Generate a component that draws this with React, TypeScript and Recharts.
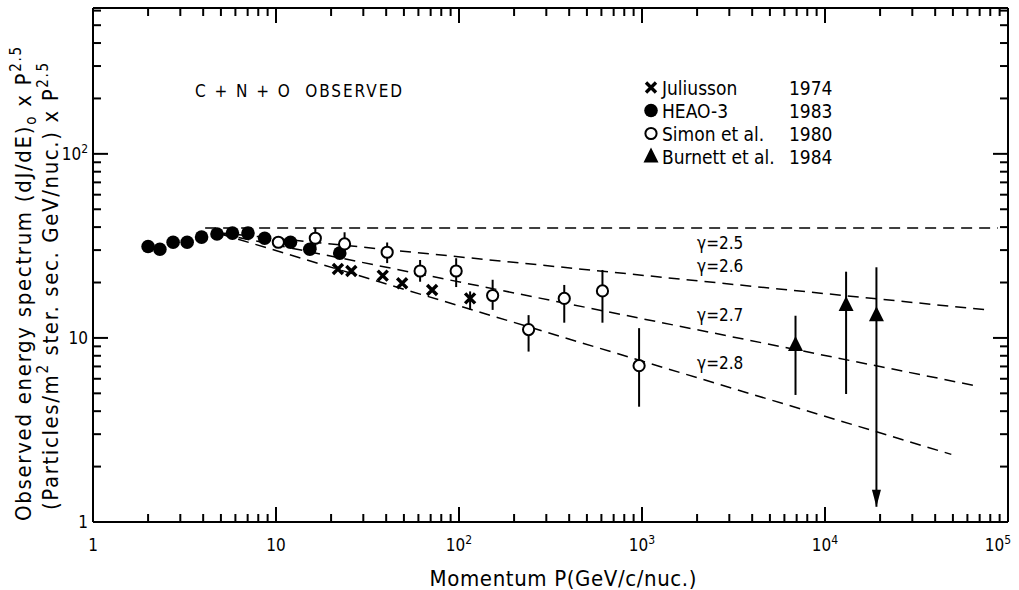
import React from "react";
import { ScatterChart, Scatter, XAxis, YAxis, ErrorBar, Legend } from "recharts";

const FONT = "'DejaVu Sans Condensed', 'DejaVu Sans', sans-serif";

// ---------- data ----------
const seriesNames = ["Juliusson", "HEAO-3", "Simon et al.", "Burnett et al."];
const seriesYears = ["1974", "1983", "1980", "1984"];

const juliusson = [
  { x: 21.8, y: 23.7, err: [0, 0] },
  { x: 25.8, y: 23.1, err: [0, 0] },
  { x: 38.3, y: 21.8, err: [0, 0] },
  { x: 48.9, y: 19.8, err: [0, 0] },
  { x: 71.3, y: 18.2, err: [0, 0] },
  { x: 115, y: 16.4, err: [2.2, 1.5] },
];

const heao3 = [
  { x: 2.0, y: 31.4 },
  { x: 2.32, y: 30.3 },
  { x: 2.74, y: 33.1 },
  { x: 3.27, y: 33.1 },
  { x: 3.92, y: 35.3 },
  { x: 4.76, y: 36.7 },
  { x: 5.78, y: 37.1 },
  { x: 7.03, y: 37.1 },
  { x: 8.67, y: 34.8 },
  { x: 12.0, y: 33.1 },
  { x: 15.3, y: 30.3 },
  { x: 22.3, y: 28.9 },
];

const simon = [
  { x: 10.3, y: 33.1, err: [0, 0] },
  { x: 16.4, y: 34.8, err: [4.7, 4.8] },
  { x: 23.7, y: 32.4, err: [2.9, 5.1] },
  { x: 40.5, y: 29.2, err: [3.7, 3.8] },
  { x: 61.3, y: 23.1, err: [2.9, 3.4] },
  { x: 96.5, y: 23.1, err: [4.2, 4.0] },
  { x: 152.7, y: 17.0, err: [2.8, 3.7] },
  { x: 240, y: 11.1, err: [2.67, 2.2] },
  { x: 376, y: 16.4, err: [4.3, 3.0] },
  { x: 608, y: 18.0, err: [5.9, 5.4] },
  { x: 964, y: 7.07, err: [2.84, 4.23] },
];

const burnett = [
  { x: 6900, y: 9.16, err: [4.26, 4.04] },
  { x: 13040, y: 15.1, err: [10.14, 7.8] },
  { x: 19100, y: 13.3, err: [12.09, 10.9] },
];

const arrowTip = [{ x: 19100, y: 1.21 }];

const gamma25 = [{ x: 4.1, y: 39.5 }, { x: 88000, y: 39.5 }];
const gamma26 = [{ x: 5, y: 37.2 }, { x: 76600, y: 14.2 }];
const gamma27 = [{ x: 5, y: 36.7 }, { x: 67600, y: 5.48 }];
const gamma28 = [{ x: 5, y: 36.7 }, { x: 49000, y: 2.33 }];

const gammaLabels = [
  { x: 2000, y: 32.8, text: "γ=2.5" },
  { x: 2000, y: 24.6, text: "γ=2.6" },
  { x: 2000, y: 13.3, text: "γ=2.7" },
  { x: 2000, y: 7.31, text: "γ=2.8" },
];

const titleLabel = [{ x: 3.61, y: 220, text: "C + N + O  OBSERVED" }];

const xTicks = [
  1, 2, 3, 4, 5, 6, 7, 8, 9,
  10, 20, 30, 40, 50, 60, 70, 80, 90,
  100, 200, 300, 400, 500, 600, 700, 800, 900,
  1000, 2000, 3000, 4000, 5000, 6000, 7000, 8000, 9000,
  10000, 20000, 30000, 40000, 50000, 60000, 70000, 80000, 90000,
  100000,
];
const yTicks = [
  1, 2, 3, 4, 5, 6, 7, 8, 9,
  10, 20, 30, 40, 50, 60, 70, 80, 90,
  100, 200, 300, 400, 500, 600,
];
const xTickLabels = [
  { v: 1, base: "1", exp: "" },
  { v: 10, base: "10", exp: "" },
  { v: 100, base: "10", exp: "2" },
  { v: 1000, base: "10", exp: "3" },
  { v: 10000, base: "10", exp: "4" },
  { v: 100000, base: "10", exp: "5" },
];
const yTickLabels = [
  { v: 1, base: "1", exp: "" },
  { v: 10, base: "10", exp: "" },
  { v: 100, base: "10", exp: "2" },
];

// ---------- ticks ----------
const MAJOR = 15;
const MINOR = 8;
const isMajor = (v: number) => [1, 10, 100, 1000, 10000, 100000].includes(v);

const TickText = ({ x, y, lab, anchor }: any) => (
  <text x={x} y={y} textAnchor={anchor} fontFamily={FONT} fontSize={17} fill="#000">
    {lab.base}
    {lab.exp ? (
      <tspan dy={-7} fontSize={12}>
        {lab.exp}
      </tspan>
    ) : null}
  </text>
);

const BottomTick = (props: any) => {
  const { x, y, payload } = props;
  const v = payload.value;
  const lab = xTickLabels.find((l) => l.v === v);
  const len = isMajor(v) ? MAJOR : MINOR;
  const last = v === xTicks[xTicks.length - 1];
  return (
    <g>
      <line x1={x} y1={y} x2={x} y2={y - len} stroke="#000" strokeWidth={2} />
      {lab ? (
        <TickText x={last ? x + 3 : x} y={y + 29} lab={lab} anchor={last ? "end" : "middle"} />
      ) : null}
    </g>
  );
};
const TopTick = (props: any) => {
  const { x, y, payload } = props;
  const len = isMajor(payload.value) ? MAJOR : MINOR;
  return <line x1={x} y1={y} x2={x} y2={y + len} stroke="#000" strokeWidth={2} />;
};
const LeftTick = (props: any) => {
  const { x, y, payload } = props;
  const v = payload.value;
  const lab = yTickLabels.find((l) => l.v === v);
  const len = isMajor(v) ? MAJOR : MINOR;
  return (
    <g>
      <line x1={x} y1={y} x2={x + len} y2={y} stroke="#000" strokeWidth={2} />
      {lab ? <TickText x={x - 5} y={y + 6} lab={lab} anchor="end" /> : null}
    </g>
  );
};
const RightTick = (props: any) => {
  const { x, y, payload } = props;
  const len = isMajor(payload.value) ? MAJOR : MINOR;
  return <line x1={x} y1={y} x2={x - len} y2={y} stroke="#000" strokeWidth={2} />;
};

// ---------- axis labels ----------
const XLabel = (props: any) => {
  const vb = props.viewBox || { x: 93, y: 522, width: 915, height: 68 };
  return (
    <text
      x={vb.x + 470}
      y={vb.y + 64}
      textAnchor="middle"
      fontFamily={FONT}
      fontSize={22}
      fill="#000"
      textLength={267}
      lengthAdjust="spacing"
    >
      Momentum P(GeV/c/nuc.)
    </text>
  );
};

const YLabel = (props: any) => {
  const vb = props.viewBox || { x: 0, y: 8, width: 93, height: 514 };
  const bottom = vb.y + vb.height;
  const x1 = vb.x + 31;
  const y1 = bottom - 1;
  const x2 = vb.x + 58;
  const y2 = bottom - 12;
  return (
    <g fontFamily={FONT} fontSize={22} fill="#000">
      <text
        x={x1}
        y={y1}
        transform={`rotate(-90 ${x1} ${y1})`}
        textLength={474}
        lengthAdjust="spacing"
        style={{ whiteSpace: "pre" }}
      >
        Observed energy spectrum (dJ/dE)
        <tspan dy={5} fontSize={15}>o</tspan>
        <tspan dy={-5}> x P</tspan>
        <tspan dy={-10} fontSize={15}>2.5</tspan>
      </text>
      <text
        x={x2}
        y={y2}
        transform={`rotate(-90 ${x2} ${y2})`}
        textLength={447}
        lengthAdjust="spacing"
        style={{ whiteSpace: "pre" }}
      >
        (Particles/m
        <tspan dy={-10} fontSize={15}>2</tspan>
        <tspan dy={10}> ster. sec. GeV/nuc.) x P</tspan>
        <tspan dy={-10} fontSize={15}>2.5</tspan>
      </text>
    </g>
  );
};

// ---------- markers ----------
const crossPath = (cx: number, cy: number, s: number) =>
  `M${cx - s},${cy - s}L${cx + s},${cy + s}M${cx + s},${cy - s}L${cx - s},${cy + s}`;

const marker = (i: number, cx: number, cy: number) => {
  switch (i) {
    case 0:
      return <path d={crossPath(cx, cy, 5)} stroke="#000" strokeWidth={3.4} fill="none" />;
    case 1:
      return <circle cx={cx} cy={cy} r={6.8} fill="#000" />;
    case 2:
      return <circle cx={cx} cy={cy} r={5.6} fill="#fff" stroke="#000" strokeWidth={2} />;
    default:
      return (
        <polygon
          points={`${cx},${cy - 9} ${cx - 7.5},${cy + 6} ${cx + 7.5},${cy + 6}`}
          fill="#000"
        />
      );
  }
};

const CrossShape = (p: any) => marker(0, p.cx, p.cy);
const FilledShape = (p: any) => marker(1, p.cx, p.cy);
const OpenShape = (p: any) => marker(2, p.cx, p.cy);
const TriShape = (p: any) => marker(3, p.cx, p.cy);
const NoShape = () => <g />;
const ArrowShape = (p: any) => (
  <polygon
    points={`${p.cx},${p.cy} ${p.cx - 4.5},${p.cy - 17} ${p.cx + 4.5},${p.cy - 17}`}
    fill="#000"
  />
);
const GammaText = (p: any) => (
  <text x={p.cx} y={p.cy + 6} fontFamily={FONT} fontSize={17} fill="#000">
    {p.payload.text}
  </text>
);
const TitleText = (p: any) => (
  <text
    x={p.cx}
    y={p.cy + 6}
    fontFamily={FONT}
    fontSize={17}
    fill="#000"
    textLength={207}
    lengthAdjust="spacing"
    style={{ whiteSpace: "pre" }}
  >
    {p.payload.text}
  </text>
);

// ---------- legend ----------
const LegendContent = (props: any) => {
  const present = (props.payload || []).map((p: any) => p.value);
  const items = seriesNames.filter((n) => present.includes(n));
  return (
    <div style={{ fontFamily: FONT, fontSize: 19, color: "#000" }}>
      {items.map((name) => {
        const i = seriesNames.indexOf(name);
        return (
          <div key={name} style={{ display: "flex", alignItems: "center", height: 23 }}>
            <svg width={22} height={23} style={{ display: "block" }}>
              {marker(i, 11, 11.5)}
            </svg>
            <span style={{ display: "inline-block", width: 127, whiteSpace: "pre" }}>{name}</span>
            <span>{seriesYears[i]}</span>
          </div>
        );
      })}
    </div>
  );
};

const dashed = { stroke: "#000", strokeWidth: 1.5, strokeDasharray: "11 7" };

export default function App() {
  return (
    <div style={{ position: "absolute", left: 0, top: 0, width: 1019, height: 590, background: "#fff" }}>
      <ScatterChart width={1019} height={590} margin={{ top: 0, right: 0, bottom: 0, left: 0 }}>
        <XAxis
          dataKey="x"
          type="number"
          scale="log"
          domain={[1, 100000]}
          allowDataOverflow
          ticks={xTicks}
          interval={0}
          tickSize={0}
          tickMargin={0}
          tickLine={false}
          tick={BottomTick}
          height={68}
          axisLine={{ stroke: "#000", strokeWidth: 2 }}
          label={XLabel}
        />
        <XAxis
          xAxisId="top"
          orientation="top"
          dataKey="x"
          type="number"
          scale="log"
          domain={[1, 100000]}
          allowDataOverflow
          ticks={xTicks}
          interval={0}
          tickSize={0}
          tickMargin={0}
          tickLine={false}
          tick={TopTick}
          height={8}
          axisLine={{ stroke: "#000", strokeWidth: 2 }}
        />
        <YAxis
          dataKey="y"
          type="number"
          scale="log"
          domain={[1, 620]}
          allowDataOverflow
          ticks={yTicks}
          interval={0}
          tickSize={0}
          tickMargin={0}
          tickLine={false}
          tick={LeftTick}
          width={93}
          axisLine={{ stroke: "#000", strokeWidth: 2 }}
          label={YLabel}
        />
        <YAxis
          yAxisId="right"
          orientation="right"
          dataKey="y"
          type="number"
          scale="log"
          domain={[1, 620]}
          allowDataOverflow
          ticks={yTicks}
          interval={0}
          tickSize={0}
          tickMargin={0}
          tickLine={false}
          tick={RightTick}
          width={11}
          axisLine={{ stroke: "#000", strokeWidth: 2 }}
        />

        <Scatter data={gamma25} line={dashed} shape={NoShape} legendType="none" isAnimationActive={false} />
        <Scatter data={gamma26} line={dashed} shape={NoShape} legendType="none" isAnimationActive={false} />
        <Scatter data={gamma27} line={dashed} shape={NoShape} legendType="none" isAnimationActive={false} />
        <Scatter data={gamma28} line={dashed} shape={NoShape} legendType="none" isAnimationActive={false} />

        <Scatter name={seriesNames[0]} data={juliusson} shape={CrossShape} isAnimationActive={false}>
          <ErrorBar dataKey="err" direction="y" width={0} stroke="#000" strokeWidth={2} />
        </Scatter>
        <Scatter name={seriesNames[1]} data={heao3} shape={FilledShape} isAnimationActive={false} />
        <Scatter name="simon-err" data={simon} shape={NoShape} legendType="none" isAnimationActive={false}>
          <ErrorBar dataKey="err" direction="y" width={0} stroke="#000" strokeWidth={2} />
        </Scatter>
        <Scatter name={seriesNames[2]} data={simon} shape={OpenShape} isAnimationActive={false} />
        <Scatter name={seriesNames[3]} data={burnett} shape={TriShape} isAnimationActive={false}>
          <ErrorBar dataKey="err" direction="y" width={0} stroke="#000" strokeWidth={2} />
        </Scatter>
        <Scatter name="arrow" data={arrowTip} shape={ArrowShape} legendType="none" isAnimationActive={false} />

        <Scatter name="gamma-labels" data={gammaLabels} shape={GammaText} legendType="none" isAnimationActive={false} />
        <Scatter name="title" data={titleLabel} shape={TitleText} legendType="none" isAnimationActive={false} />

        <Legend
          layout="horizontal"
          verticalAlign="middle"
          align="center"
          content={LegendContent}
          wrapperStyle={{ left: 640, top: 76, width: 220, height: 95 }}
        />
      </ScatterChart>
    </div>
  );
}
